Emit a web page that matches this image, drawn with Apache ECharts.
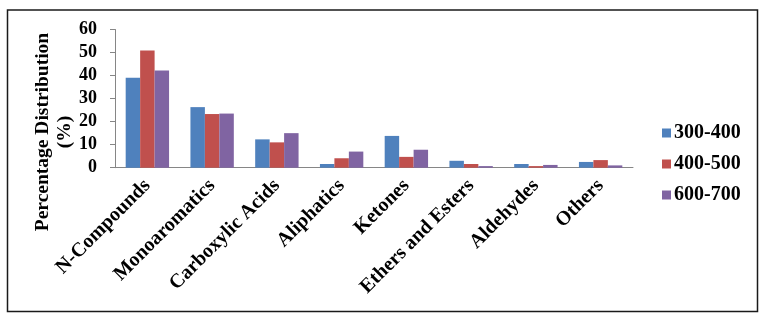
<!DOCTYPE html>
<html>
<head>
<meta charset="utf-8">
<script src="https://cdn.jsdelivr.net/npm/echarts@6/dist/echarts.min.js"></script>
<style>
  html, body { margin: 0; padding: 0; background: #fff; }
  #chart { width: 763px; height: 321px; }
</style>
</head>
<body>
<div id="chart"></div>
<script>
const categories = ["N-Compounds", "Monoaromatics", "Carboxylic Acids", "Aliphatics",
  "Ketones", "Ethers and Esters", "Aldehydes", "Others"];
const seriesNames = ["300-400", "400-500", "600-700"];
const values300 = [39.1, 26.3, 12.3, 1.6, 13.8, 3.0, 1.6, 2.5];
const values400 = [50.9, 23.3, 11.0, 4.1, 4.7, 1.6, 0.7, 3.3];
const values600 = [42.2, 23.5, 15.0, 7.0, 7.8, 0.7, 1.2, 1.0];
const colors = ["#4F81BD", "#C0504D", "#8064A2"];

const font = "'Liberation Serif', 'Times New Roman', serif";
const chart = echarts.init(document.getElementById("chart"));

chart.setOption({
  animation: false,
  color: colors,
  grid: { left: 115, right: 130, top: 29.5, bottom: 153.3 },
  legend: {
    orient: "vertical",
    left: 657,
    top: 118,
    itemWidth: 9,
    itemHeight: 9,
    itemGap: 11,
    icon: "rect",
    textStyle: { fontFamily: font, fontWeight: "bold", fontSize: 20, color: "#000", padding: [0, 0, 0, -2] },
    data: seriesNames,
  },
  xAxis: {
    type: "category",
    data: categories,
    axisLine: { lineStyle: { color: "#868686", width: 1 } },
    axisTick: { length: 5, lineStyle: { color: "#868686" } },
    axisLabel: {
      rotate: 45,
      margin: 15,
      interval: 0,
      fontFamily: font,
      fontWeight: "bold",
      fontSize: 20,
      color: "#000",
    },
  },
  yAxis: {
    type: "value",
    min: 0,
    max: 60,
    interval: 10,
    splitLine: { show: false },
    axisLine: { show: true, lineStyle: { color: "#868686", width: 1 } },
    axisTick: { show: true, length: 5, lineStyle: { color: "#868686" } },
    axisLabel: {
      margin: 18,
      fontFamily: font,
      fontWeight: "bold",
      fontSize: 18,
      color: "#000",
    },
  },
  graphic: [
    {
      type: "rect",
      shape: { x: 7.5, y: 10, width: 750, height: 301.5 },
      style: { fill: "none", stroke: "#1a1a1a", lineWidth: 1.5 },
      silent: true,
    },
    {
      type: "text",
      x: 43,
      y: 132,
      rotation: Math.PI / 2,
      style: {
        text: "Percentage Distribution",
        fontFamily: font,
        fontWeight: "bold",
        fontSize: 19.5,
        fill: "#000",
        align: "center",
        verticalAlign: "middle",
      },
    },
    {
      type: "text",
      x: 65,
      y: 132,
      rotation: Math.PI / 2,
      style: {
        text: "(%)",
        fontFamily: font,
        fontWeight: "bold",
        fontSize: 19.5,
        fill: "#000",
        align: "center",
        verticalAlign: "middle",
      },
    },
  ],
  series: [
    { name: seriesNames[0], type: "bar", data: values300, barGap: "0%", barCategoryGap: "33%" },
    { name: seriesNames[1], type: "bar", data: values400, barGap: "0%", barCategoryGap: "33%" },
    { name: seriesNames[2], type: "bar", data: values600, barGap: "0%", barCategoryGap: "33%" },
  ],
});
</script>
</body>
</html>
